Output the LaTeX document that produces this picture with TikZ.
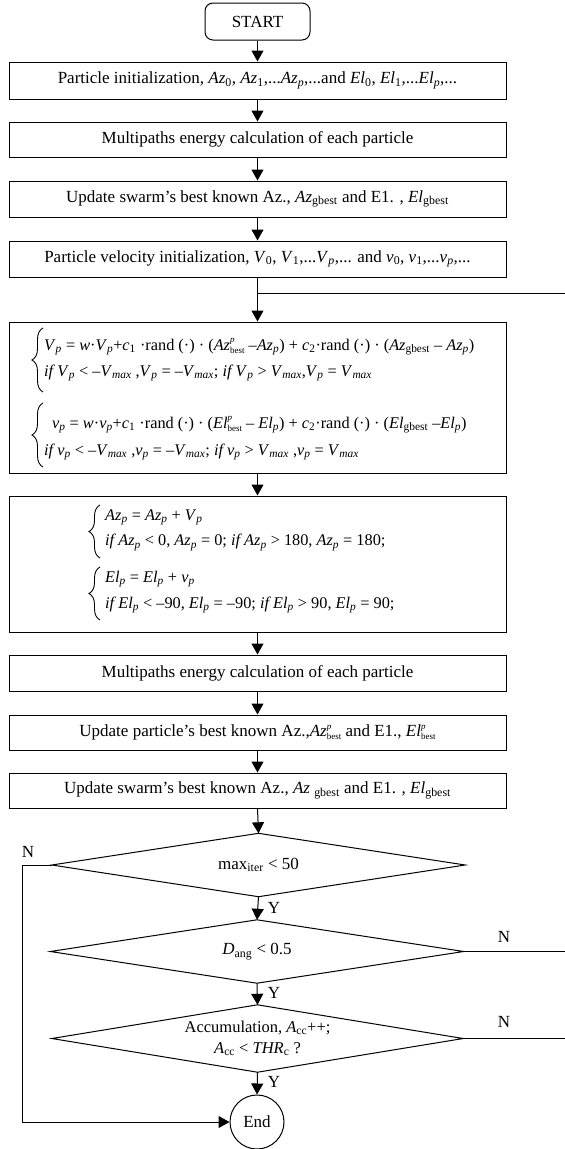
\documentclass[tikz,border=0pt]{standalone}
\usepackage{fontspec}
\setmainfont{Liberation Serif}
\usetikzlibrary{arrows.meta,decorations.pathreplacing}
\newcommand{\iv}[1]{\textit{#1}}
\newcommand{\sbs}[1]{\textsubscript{#1}}
\newcommand{\supsub}[2]{\lower3pt\vbox{\baselineskip=10.2pt\lineskiplimit=-100pt\lineskip=0pt\hbox{\fontsize{9}{9}\selectfont\iv{#1}}\hbox{\fontsize{9}{9}\selectfont #2}}}
\tikzset{
  txt/.style={font=\fontsize{17}{26}\selectfont},
  ftxt/.style={font=\fontsize{16.3}{26}\selectfont, inner sep=0pt, anchor=base west},
  box/.style={draw, line width=1pt, rectangle, minimum width=497pt, inner sep=0pt, txt},
  diabox/.style={rectangle, inner sep=0pt, txt},
  arr/.style={line width=1pt, -{Triangle[length=11pt,width=12pt]}},
  ln/.style={line width=1pt},
  brc/.style={line width=0.9pt, decorate, decoration={brace, amplitude=11pt}},
  lab/.style={txt}
}
\begin{document}
\begin{tikzpicture}[x=1pt,y=-1pt]
\useasboundingbox (0,0) rectangle (565,1149);
\node[draw, line width=1pt, rounded corners=8pt, minimum width=105pt, minimum height=37pt, inner sep=0pt, txt] (start) at (257.5,21.5) {START};
\node[box, minimum height=37pt] (b1) at (257.5,80.5) {Particle initialization, \iv{Az}\sbs{0}, \iv{Az}\sbs{1},...\iv{Az}\sbs{\iv{p}},...and \iv{El}\sbs{0}, \iv{El}\sbs{1},...\iv{El}\sbs{\iv{p}},...};
\node[box, minimum height=35pt] (b2) at (257.5,139.5) {Multipaths energy calculation of each particle};
\node[box, minimum height=36pt] (b3) at (257.5,199) {Update swarm’s best known Az., \iv{Az}\sbs{gbest} and E1. , \iv{El}\sbs{gbest}};
\node[box, minimum height=36pt] (b4) at (257.5,259) {Particle velocity initialization, \iv{V}\sbs{0}, \iv{V}\sbs{1},...\iv{V}\sbs{\iv{p}},... and \iv{v}\sbs{0}, \iv{v}\sbs{1},...\iv{v}\sbs{\iv{p}},...};
\node[box, minimum height=151pt] (b5) at (257.5,397.5) {};
\node[box, minimum height=136pt] (b6) at (257.5,564) {};
\node[box, minimum height=36pt] (b7) at (257.5,673) {Multipaths energy calculation of each particle};
\node[box, minimum height=35pt] (b8) at (257.5,732.5) {Update particle’s best known Az.,\iv{Az}\supsub{p}{best} and E1., \iv{El}\supsub{p}{best}};
\node[box, minimum height=35pt] (b9) at (257.5,790.5) {Update swarm’s best known Az., \iv{Az} \sbs{gbest} and E1. , \iv{El}\sbs{gbest}};
% formulas in box 5
\node[ftxt] (f1) at (44,350) {\begin{tabular}[t]{@{}l@{}}\iv{V}\sbs{\iv{p}} = \iv{w}·\iv{V}\sbs{\iv{p}}+\iv{c}\sbs{1} ·rand (·) · (\iv{Az}\supsub{p}{best} –\iv{Az}\sbs{\iv{p}}) + \iv{c}\sbs{2}·rand (·) · (\iv{Az}\sbs{gbest} – \iv{Az}\sbs{\iv{p}})\\\iv{if V}\sbs{\iv{p}} < –\iv{V}\sbs{\iv{max}} ,\iv{V}\sbs{\iv{p}} = –\iv{V}\sbs{\iv{max}}; \iv{if V}\sbs{\iv{p}} > \iv{V}\sbs{\iv{max}},\iv{V}\sbs{\iv{p}} = \iv{V}\sbs{\iv{max}}\end{tabular}};
\node[ftxt, font=\fontsize{16.3}{27}\selectfont] (f2) at (44,428) {\begin{tabular}[t]{@{}l@{}}\hspace{8pt}\iv{v}\sbs{\iv{p}} = \iv{w}·\iv{v}\sbs{\iv{p}}+\iv{c}\sbs{1} ·rand (·) · (\iv{El}\supsub{p}{best} – \iv{El}\sbs{\iv{p}}) + \iv{c}\sbs{2}·rand (·) · (\iv{El}\sbs{gbest} –\iv{El}\sbs{\iv{p}})\\\iv{if v}\sbs{\iv{p}} < –\iv{V}\sbs{\iv{max}} ,\iv{v}\sbs{\iv{p}} = –\iv{V}\sbs{\iv{max}}; \iv{if v}\sbs{\iv{p}} > \iv{V}\sbs{\iv{max}} ,\iv{v}\sbs{\iv{p}} = \iv{V}\sbs{\iv{max}}\end{tabular}};
% formulas in box 6
\node[ftxt, font=\fontsize{16.3}{25.5}\selectfont] (g1) at (105,520) {\begin{tabular}[t]{@{}l@{}}\iv{Az}\sbs{\iv{p}} = \iv{Az}\sbs{\iv{p}} + \iv{V}\sbs{\iv{p}}\\\iv{if Az}\sbs{\iv{p}} < 0, \iv{Az}\sbs{\iv{p}} = 0; \iv{if Az}\sbs{\iv{p}} > 180, \iv{Az}\sbs{\iv{p}} = 180;\end{tabular}};
\node[ftxt, font=\fontsize{16.3}{26}\selectfont] (g2) at (105,582) {\begin{tabular}[t]{@{}l@{}}\iv{El}\sbs{\iv{p}} = \iv{El}\sbs{\iv{p}} + \iv{v}\sbs{\iv{p}}\\\iv{if El}\sbs{\iv{p}} < –90, \iv{El}\sbs{\iv{p}} = –90; \iv{if El}\sbs{\iv{p}} > 90, \iv{El}\sbs{\iv{p}} = 90;\end{tabular}};
% braces
\draw[brc] (43,392) -- (43,328);
\draw[brc] (43,467) -- (43,403);
\draw[brc] (100,558) -- (100,505);
\draw[brc] (100,620) -- (100,567);
% decisions
\node[diabox, minimum width=413pt, minimum height=63pt] (d1) at (258.5,865) {max\sbs{iter} < 50};
\draw[ln] (d1.north) -- (d1.east) -- (d1.south) -- (d1.west) -- cycle;
\node[diabox, minimum width=413pt, minimum height=63pt] (d2) at (257,951.5) {\iv{D}\sbs{ang} < 0.5};
\draw[ln] (d2.north) -- (d2.east) -- (d2.south) -- (d2.west) -- cycle;
\node[diabox, minimum width=411pt, minimum height=67pt, align=center, font=\fontsize{16.5}{21}\selectfont] (d3) at (257.5,1038.5) {Accumulation, \iv{A}\sbs{cc}++;\\\iv{A}\sbs{cc} < \iv{THR}\sbs{c} ?};
\draw[ln] (d3.north) -- (d3.east) -- (d3.south) -- (d3.west) -- cycle;
\node[draw, line width=1pt, circle, minimum size=54pt, inner sep=0pt, txt] (end) at (257,1122) {End};
% labels
\node[lab] (y1) at (274,908) {Y};
\node[lab] (y2) at (274,993) {Y};
\node[lab] (y3) at (274,1082) {Y};
\node[lab] (n1) at (28,852) {N};
\node[lab] (n2) at (504,937) {N};
\node[lab] (n3) at (504,1022) {N};
% coordinates
\coordinate (jn) at (257.5,293);
\coordinate (loopR) at (565,293);
\coordinate (r2) at (565,951.5);
\coordinate (r3) at (565,1038.5);
% connectors
\draw[arr] (start) -- (b1);
\draw[arr] (b1) -- (b2);
\draw[arr] (b2) -- (b3);
\draw[arr] (b3) -- (b4);
\draw[arr] (b4) -- (b5);
\draw[ln] (jn) -- (loopR);
\draw[arr] (b5) -- (b6);
\draw[arr] (b6) -- (b7);
\draw[arr] (b7) -- (b8);
\draw[arr] (b8) -- (b9);
\draw[arr] (b9.south) -- (d1.north);
\draw[arr] (d1.south) -- (d2.north);
\draw[arr] (d2.south) -- (d3.north);
\draw[arr] (d3.south) -- (end.north);
\draw[arr] (d1.west) -- ++(-29,0) |- (end.west);
\draw[ln] (d2.east) -- (r2);
\draw[ln] (d3.east) -- (r3);
\end{tikzpicture}
\end{document}
